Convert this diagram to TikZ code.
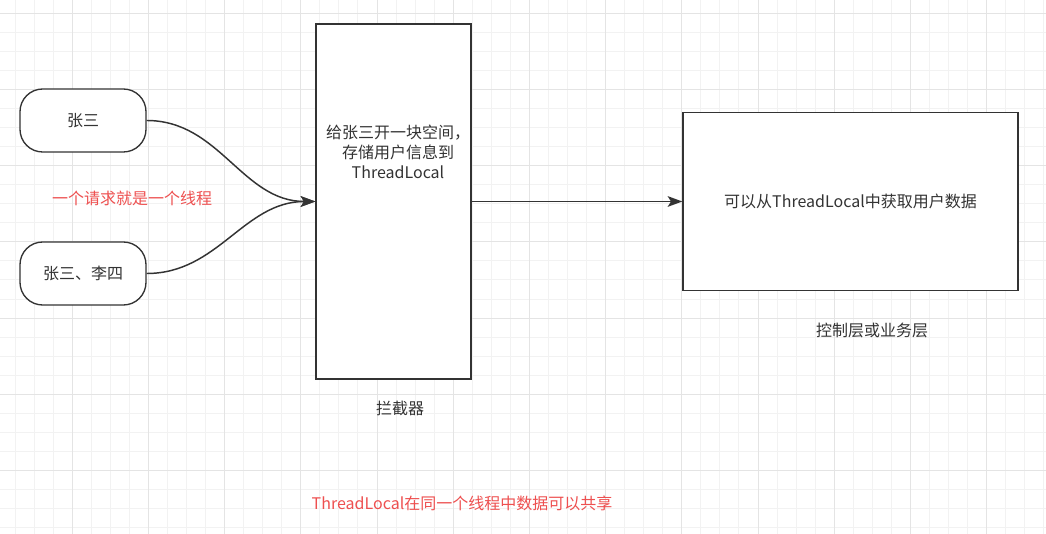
\documentclass[tikz,border=0pt]{standalone}
\usepackage{fontspec}
\setmainfont{Noto Sans CJK SC}
\usetikzlibrary{positioning, arrows.meta}
\definecolor{gridminor}{HTML}{F2F2F2}
\definecolor{gridmajor}{HTML}{E4E4E4}
\definecolor{inkgray}{HTML}{333333}
\definecolor{notered}{HTML}{EE5050}
\tikzset{
  thread/.style={draw=inkgray, line width=1pt, rounded corners=17pt, fill=white, text=inkgray,
    minimum width=94.5pt, minimum height=47.25pt},
  layer/.style={draw=inkgray, line width=1pt, fill=white, text=inkgray},
  captxt/.style={text=inkgray},
  note/.style={text=notered},
  flow/.style={draw=inkgray, line width=1.1pt, -{Stealth[length=11pt, width=8pt, inset=2.5pt]}},
}

\begin{document}
\begin{tikzpicture}[x=0.75pt, y=-0.75pt, font=\fontsize{12pt}{15pt}\selectfont]
		\fill[white] (0,0) rectangle (1046,534);
		\useasboundingbox (0,0) rectangle (1046,534);
		% grid
		\foreach \k in {0,...,54}
			\draw[gridminor, line width=0.75pt] ({15.05+19.05*\k},0) -- ({15.05+19.05*\k},534);
		\foreach \k in {0,...,27}
			\draw[gridminor, line width=0.75pt] (0,{13.3+19.05*\k}) -- (1046,{13.3+19.05*\k});
		\foreach \k in {0,...,12}
			\draw[gridmajor, line width=0.75pt] ({72.2+76.2*\k},0) -- ({72.2+76.2*\k},534);
		\foreach \k in {0,...,6}
			\draw[gridmajor, line width=0.75pt] (0,{13.3+76.2*\k}) -- (1046,{13.3+76.2*\k});

		\node[thread] (zs) at (83,120.5) {张三};
		\node[thread] (zsls) at (83,273.5) {张三、李四};
		\node[note] (reqnote) at (132,198) {一个请求就是一个线程};

		\node[layer, minimum width=116.25pt, minimum height=266.25pt] (icpt) at (393.5,201.5) {};
		\node[captxt, align=center] (icpttext) at (398,152) {给张三开一块空间，\\存储用户信息到\\ThreadLocal};
		\node[captxt] (icptname) at (400,408) {拦截器};

		\node[layer, minimum width=251.25pt, minimum height=133.5pt] (ctrl) at (850.5,201.5) {可以从ThreadLocal中获取用户数据};
		\node[captxt] (ctrlname) at (872,330) {控制层或业务层};

		\node[note] (sharenote) at (462,503) {ThreadLocal在同一个线程中数据可以共享};

		\draw[flow] (zs.east) to[out=0, in=180] (icpt.west);
		\draw[flow] (zsls.east) to[out=0, in=180] (icpt.west);
		\draw[flow] (icpt.east) -- (ctrl.west);
\end{tikzpicture}
\end{document}
